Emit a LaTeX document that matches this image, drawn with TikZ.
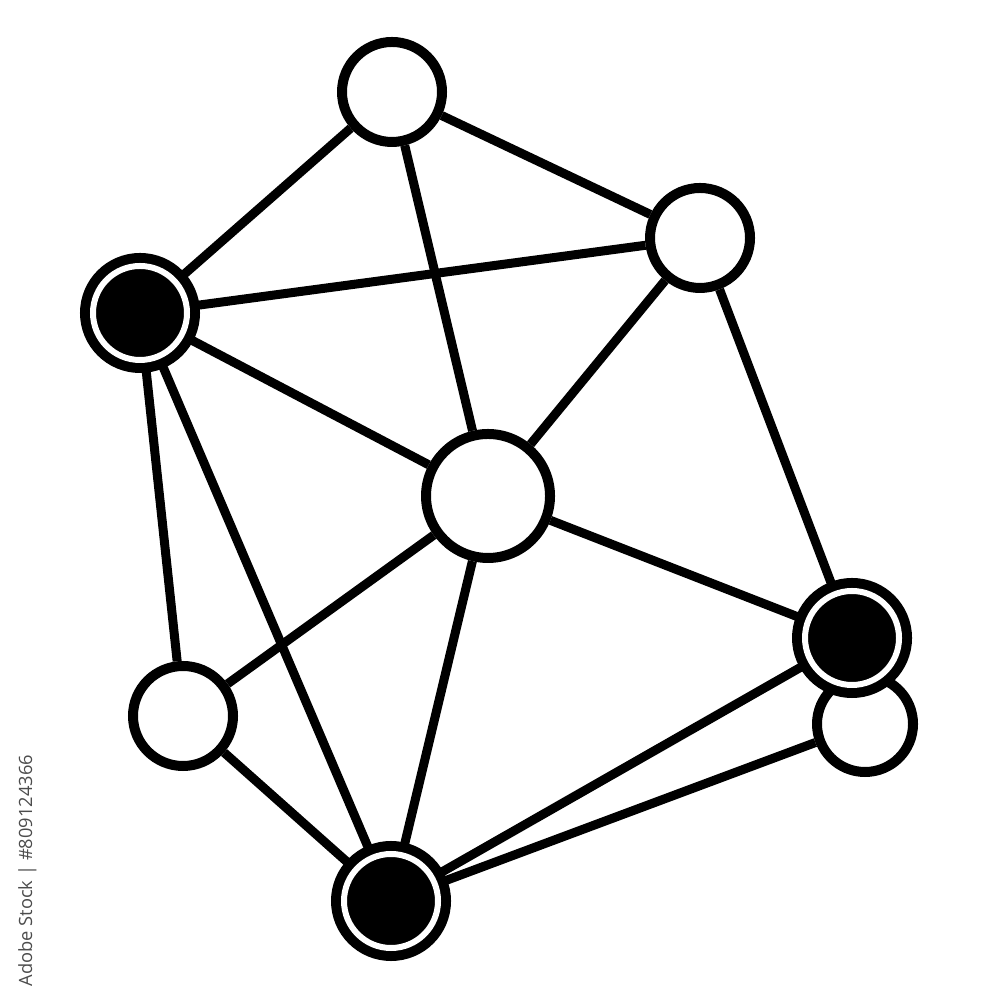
\documentclass[tikz,border=0pt]{standalone}
\usepackage{fontspec}
\setsansfont{Open Sans}
\usepackage{tikz}
\usetikzlibrary{positioning, backgrounds}
\tikzset{
  hub/.style={circle, draw=black, fill=white, line width=0.1cm, inner sep=0pt, minimum size=1cm},
  bighub/.style={hub, minimum size=1.24cm},
  dark/.style={circle, draw=black, fill=black, line width=0.1cm, double=white, double distance=0.06cm, inner sep=0pt, minimum size=0.94cm},
  link/.style={line width=0.09cm}
}

\begin{document}
\begin{tikzpicture}
      \useasboundingbox (0,0) rectangle (10,10);

      \node[hub] (Vtx1) at (3.92,9.08) {};
      \node[hub] (Vtx2) at (7.00,7.62) {};
      \node[dark] (Vtx3) at (1.40,6.87) {};
      \node[bighub] (Vtx4) at (4.88,5.04) {};
      \node[hub, minimum size=0.96cm] (Vtx6) at (8.65,2.76) {};
      \node[dark] (Vtx5) at (8.52,3.62) {};
      \node[hub] (Vtx7) at (1.83,2.84) {};
      \node[dark] (Vtx8) at (3.91,0.99) {};

      \node[rotate=90, anchor=base west, text=black!70, font=\sffamily\fontsize{5.2}{6}\selectfont, inner sep=0pt] (Mark) at (0.32,0.13) {Adobe Stock | \#809124366};

      \begin{scope}[on background layer]
      \draw[link] (node cs:name=Vtx1) -- (node cs:name=Vtx3);
      \draw[link] (node cs:name=Vtx1) -- (node cs:name=Vtx2);
      \draw[link] (node cs:name=Vtx1) -- (node cs:name=Vtx4);
      \draw[link] (node cs:name=Vtx3) -- (node cs:name=Vtx2);
      \draw[link] (node cs:name=Vtx2) -- (node cs:name=Vtx4);
      \draw[link] (node cs:name=Vtx2) -- (node cs:name=Vtx5);
      \draw[link] (node cs:name=Vtx3) -- (node cs:name=Vtx4);
      \draw[link] (node cs:name=Vtx3) -- (node cs:name=Vtx7);
      \draw[link] (node cs:name=Vtx3) -- (node cs:name=Vtx8);
      \draw[link] (node cs:name=Vtx4) -- (node cs:name=Vtx7);
      \draw[link] (node cs:name=Vtx4) -- (node cs:name=Vtx8);
      \draw[link] (node cs:name=Vtx4) -- (node cs:name=Vtx5);
      \draw[link] (node cs:name=Vtx7) -- (node cs:name=Vtx8);
      \draw[link] (node cs:name=Vtx8) -- (node cs:name=Vtx5);
      \draw[link] (node cs:name=Vtx8) -- (node cs:name=Vtx6);
      \end{scope}
    \end{tikzpicture}
\end{document}
